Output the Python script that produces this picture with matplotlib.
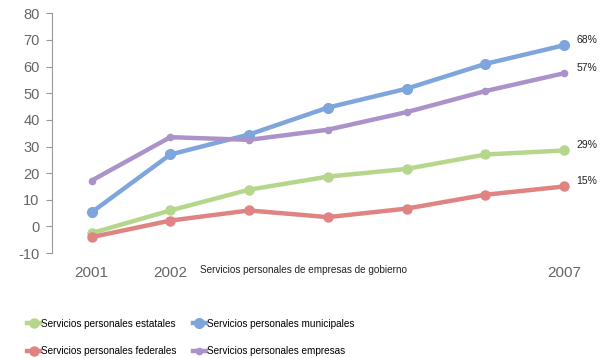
import matplotlib.pyplot as plt
from matplotlib.lines import Line2D

# datos
x_pos = [0, 1, 2, 3, 4, 5, 6]
tick_pos = [0, 1, 6]
tick_labels = ['2001', '2002', '2007']

estatales = [-2.5, 6, 13.8, 18.7, 21.6, 27, 28.5]
municipales = [5.3, 27, 34.5, 44.6, 51.7, 61, 68]
federales = [-4, 2.2, 6, 3.5, 6.7, 11.9, 15]
empresas = [17.2, 33.5, 32.5, 36.3, 42.9, 50.8, 57.5]

end_labels = ['29%', '68%', '15%', '57%']
names = ['Servicios personales estatales', 'Servicios personales municipales',
         'Servicios personales federales', 'Servicios personales empresas']
series = [estatales, municipales, federales, empresas]
colors = ['#b6d68c', '#7ea6dc', '#e08383', '#ab93c9']
msizes = [6.5, 7, 6.5, 4.5]

plt.rcParams['font.family'] = ['Liberation Sans', 'DejaVu Sans']
plt.rcParams['axes.unicode_minus'] = False

fig = plt.figure(figsize=(6.14, 3.58), dpi=100)
ax = fig.add_axes([0.085, 0.293, 0.898, 0.670])

for vals, c, ms, lab in zip(series, colors, msizes, end_labels):
    ax.plot(x_pos, vals, color=c, linewidth=3.2, marker='o', markersize=ms,
            solid_capstyle='round')
    ax.annotate(lab, (x_pos[-1], vals[-1]), xytext=(9, 4), textcoords='offset points',
                fontsize=7.5, color='#222222', va='center', annotation_clip=False)

ax.set_xlim(-0.5, 6.5)
ax.set_ylim(-10, 80)
ax.set_yticks(range(-10, 81, 10))
ax.set_xticks(tick_pos)
ax.set_xticklabels(tick_labels)
ax.tick_params(axis='x', length=0, pad=9, labelsize=11, colors='#666666')
ax.tick_params(axis='y', length=4, width=0.8, color='#999999', labelsize=10.5,
               labelcolor='#666666', pad=5)
for s in ['top', 'right', 'bottom']:
    ax.spines[s].set_visible(False)
ax.spines['left'].set_color('#999999')
ax.spines['left'].set_linewidth(0.8)

fig.text(0.495, 0.245, 'Servicios personales de empresas de gobierno',
         fontsize=7.2, color='#222222', ha='center', va='center')

handles = [Line2D([], [], color=c, linewidth=3.2, marker='o', markersize=ms)
           for c, ms in zip(colors, msizes)]
order = [0, 2, 1, 3]
fig.legend([handles[i] for i in order], [names[i] for i in order], ncol=2,
           loc='lower left', bbox_to_anchor=(0.03, -0.02), frameon=False,
           fontsize=7.2, handlelength=1.3, handletextpad=0.1,
           columnspacing=1.6, labelspacing=1.75)

fig.savefig('out.png', dpi=100)
